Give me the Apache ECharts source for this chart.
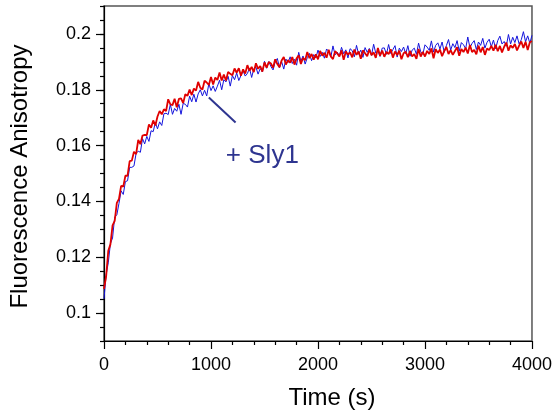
<!DOCTYPE html>
<html>
<head>
<meta charset="utf-8">
<script src="https://cdn.jsdelivr.net/npm/echarts@6/dist/echarts.min.js"></script>
<style>
html,body{margin:0;padding:0;background:#fff;}
#chart{width:555px;height:415px;}
</style>
</head>
<body>
<div id="chart"></div>
<script>
// Sampling times (s)
const timeS = [0,20,40,60,80,100,120,140,160,180,200,220,240,260,280,300,320,340,360,380,
400,420,440,460,480,500,520,540,560,580,600,620,640,660,680,700,720,740,760,780,
800,820,840,860,880,900,920,940,960,980,1000,1020,1040,1060,1080,1100,1120,1140,1160,1180,
1200,1220,1240,1260,1280,1300,1320,1340,1360,1380,1400,1420,1440,1460,1480,1500,1520,1540,1560,1580,
1600,1620,1640,1660,1680,1700,1720,1740,1760,1780,1800,1820,1840,1860,1880,1900,1920,1940,1960,1980,
2000,2020,2040,2060,2080,2100,2120,2140,2160,2180,2200,2220,2240,2260,2280,2300,2320,2340,2360,2380,
2400,2420,2440,2460,2480,2500,2520,2540,2560,2580,2600,2620,2640,2660,2680,2700,2720,2740,2760,2780,
2800,2820,2840,2860,2880,2900,2920,2940,2960,2980,3000,3020,3040,3060,3080,3100,3120,3140,3160,3180,
3200,3220,3240,3260,3280,3300,3320,3340,3360,3380,3400,3420,3440,3460,3480,3500,3520,3540,3560,3580,
3600,3620,3640,3660,3680,3700,3720,3740,3760,3780,3800,3820,3840,3860,3880,3900,3920,3940,3960,3980,
4000];

// Red trace (no Sly1)
const anisoRed = [0.1087,0.1132,0.1223,0.1246,0.1314,0.1330,0.1395,0.1409,0.1456,0.1453,0.1492,0.1492,0.1544,0.1546,0.1578,0.1569,0.1620,0.1605,0.1636,0.1638,
0.1638,0.1676,0.1664,0.1690,0.1672,0.1704,0.1724,0.1712,0.1730,0.1724,0.1766,0.1748,0.1745,0.1768,0.1737,0.1767,0.1769,0.1752,0.1784,0.1778,
0.1801,0.1781,0.1804,0.1797,0.1828,0.1807,0.1801,0.1832,0.1826,0.1817,0.1846,0.1819,0.1844,0.1835,0.1862,0.1833,0.1854,0.1833,0.1864,0.1857,
0.1852,0.1876,0.1861,0.1877,0.1850,0.1873,0.1858,0.1888,0.1868,0.1882,0.1863,0.1895,0.1875,0.1885,0.1865,0.1898,0.1879,0.1899,0.1894,0.1879,
0.1909,0.1892,0.1881,0.1905,0.1917,0.1890,0.1906,0.1897,0.1917,0.1890,0.1913,0.1923,0.1892,0.1914,0.1906,0.1935,0.1913,0.1928,0.1908,0.1927,
0.1909,0.1939,0.1922,0.1932,0.1915,0.1943,0.1919,0.1910,0.1938,0.1930,0.1919,0.1941,0.1907,0.1937,0.1926,0.1934,0.1916,0.1944,0.1925,0.1937,
0.1911,0.1941,0.1931,0.1920,0.1944,0.1924,0.1934,0.1914,0.1950,0.1922,0.1940,0.1918,0.1936,0.1928,0.1945,0.1915,0.1937,0.1924,0.1940,0.1909,
0.1931,0.1936,0.1917,0.1939,0.1919,0.1928,0.1911,0.1946,0.1919,0.1936,0.1919,0.1939,0.1928,0.1948,0.1913,0.1945,0.1932,0.1944,0.1920,0.1939,
0.1953,0.1928,0.1942,0.1925,0.1939,0.1952,0.1922,0.1946,0.1935,0.1951,0.1930,0.1960,0.1935,0.1943,0.1927,0.1958,0.1934,0.1953,0.1925,0.1948,
0.1942,0.1957,0.1940,0.1961,0.1938,0.1957,0.1934,0.1954,0.1969,0.1940,0.1959,0.1950,0.1964,0.1941,0.1958,0.1973,0.1950,0.1972,0.1942,0.1970,
0.1974];

// Blue trace (+ Sly1)
const anisoBlue = [0.1051,0.1138,0.1180,0.1249,0.1269,0.1344,0.1352,0.1393,0.1438,0.1425,0.1471,0.1474,0.1522,0.1522,0.1527,0.1572,0.1580,0.1576,0.1625,0.1606,
0.1633,0.1615,0.1653,0.1650,0.1683,0.1660,0.1685,0.1672,0.1714,0.1716,0.1711,0.1748,0.1712,0.1733,0.1723,0.1748,0.1712,0.1751,0.1748,0.1738,
0.1777,0.1757,0.1784,0.1756,0.1785,0.1800,0.1778,0.1798,0.1778,0.1822,0.1797,0.1814,0.1794,0.1813,0.1834,0.1800,0.1836,0.1828,0.1848,0.1813,
0.1851,0.1836,0.1860,0.1833,0.1851,0.1868,0.1849,0.1858,0.1877,0.1844,0.1875,0.1881,0.1856,0.1876,0.1864,0.1902,0.1877,0.1901,0.1883,0.1871,
0.1900,0.1912,0.1879,0.1901,0.1874,0.1910,0.1897,0.1918,0.1894,0.1909,0.1888,0.1934,0.1902,0.1921,0.1892,0.1915,0.1930,0.1904,0.1926,0.1914,
0.1942,0.1919,0.1934,0.1913,0.1946,0.1938,0.1917,0.1957,0.1925,0.1935,0.1920,0.1952,0.1929,0.1943,0.1914,0.1947,0.1940,0.1918,0.1959,0.1927,
0.1942,0.1916,0.1951,0.1934,0.1948,0.1923,0.1963,0.1931,0.1939,0.1919,0.1949,0.1950,0.1927,0.1962,0.1930,0.1944,0.1958,0.1917,0.1949,0.1937,
0.1953,0.1929,0.1958,0.1920,0.1942,0.1949,0.1927,0.1967,0.1936,0.1927,0.1961,0.1953,0.1941,0.1975,0.1935,0.1959,0.1968,0.1946,0.1971,0.1934,
0.1958,0.1980,0.1942,0.1965,0.1951,0.1976,0.1938,0.1969,0.1961,0.1947,0.1989,0.1951,0.1966,0.1976,0.1944,0.1971,0.1959,0.1984,0.1949,0.1970,
0.1981,0.1954,0.1978,0.1947,0.1976,0.1992,0.1964,0.1973,0.1956,0.1998,0.1964,0.1988,0.1969,0.1993,0.1964,0.1979,0.2008,0.1972,0.1993,0.1967,
0.1995];

const yTickLabels = [0.1, 0.12, 0.14, 0.16, 0.18, 0.2];
const xTickLabels = [0, 1000, 2000, 3000, 4000];
const annotationText = '+ Sly1';
const annotationPointer = [[980, 0.1772], [1230, 0.1683]];
const annotationAt = [1480, 0.1562];

function pairs(xs, ys){ return xs.map((x,i)=>[x, ys[i]]); }

const FONT = '"Liberation Sans", Arial, Helvetica, sans-serif';
const chart = echarts.init(document.getElementById('chart'), null, {renderer:'canvas'});

chart.setOption({
  animation: false,
  backgroundColor: '#ffffff',
  grid: {left:104, right:22, top:6, bottom:72, show:true, borderColor:'#555555', borderWidth:1.5, containLabel:false},
  xAxis: {
    type:'value', min:0, max:4000, interval:1000,
    axisLine:{show:true, onZero:false, lineStyle:{color:'#000', width:1.2}},
    axisTick:{show:true, inside:false, length:8, lineStyle:{color:'#000', width:1.2}},
    minorTick:{show:true, splitNumber:5, length:4, lineStyle:{color:'#000', width:1.2}},
    splitLine:{show:false},
    axisLabel:{margin:15, color:'#000', fontSize:18, fontFamily:FONT,
      customValues: xTickLabels, formatter: v => String(v)},
    name:'Time (s)', nameLocation:'middle', nameGap:45,
    nameTextStyle:{color:'#000', fontSize:24, fontFamily:FONT, padding:[0,0,0,28]}
  },
  yAxis: [{
    type:'value', min:0.09, max:0.21, interval:0.01,
    axisLine:{show:true, onZero:false, lineStyle:{color:'#000', width:1.2}},
    axisTick:{show:true, inside:false, length:8, customValues: yTickLabels, lineStyle:{color:'#000', width:1.2}},
    splitLine:{show:false},
    axisLabel:{margin:13, color:'#000', fontSize:18, fontFamily:FONT,
      customValues: yTickLabels, formatter: v => String(+v.toFixed(2))},
    name:'Fluorescence Anisotropy', nameLocation:'middle', nameGap:72,
    nameTextStyle:{color:'#000', fontSize:24, fontFamily:FONT, padding:[0,6,0,0]}
  },{
    type:'value', min:0.09, max:0.21, interval:0.005, position:'left', offset:0,
    axisLine:{show:false},
    axisTick:{show:true, inside:false, length:4, lineStyle:{color:'#000', width:1.2}},
    splitLine:{show:false},
    axisLabel:{show:false}
  }],
  series: [{
    name:'+ Sly1', type:'line', yAxisIndex:0, data: pairs(timeS, anisoBlue),
    showSymbol:false, symbol:'none', lineStyle:{color:'#1414dc', width:1}, itemStyle:{color:'#1414dc'},
    z:2,
    markLine:{silent:true, symbol:['none','none'], label:{show:false},
      lineStyle:{color:'#2e3590', width:2, type:'solid'},
      data:[[{coord:annotationPointer[0]},{coord:annotationPointer[1]}]]},
    markPoint:{silent:true, symbol:'circle', symbolSize:0,
      data:[{coord:annotationAt, value:annotationText}],
      label:{show:true, formatter:annotationText, color:'#2e3590', fontSize:26, fontFamily:FONT, position:'inside'}}
  },{
    name:'control', type:'line', yAxisIndex:0, data: pairs(timeS, anisoRed),
    showSymbol:false, symbol:'none', lineStyle:{color:'#e00000', width:1.8}, itemStyle:{color:'#e00000'},
    z:3
  }]
});
</script>
</body>
</html>
